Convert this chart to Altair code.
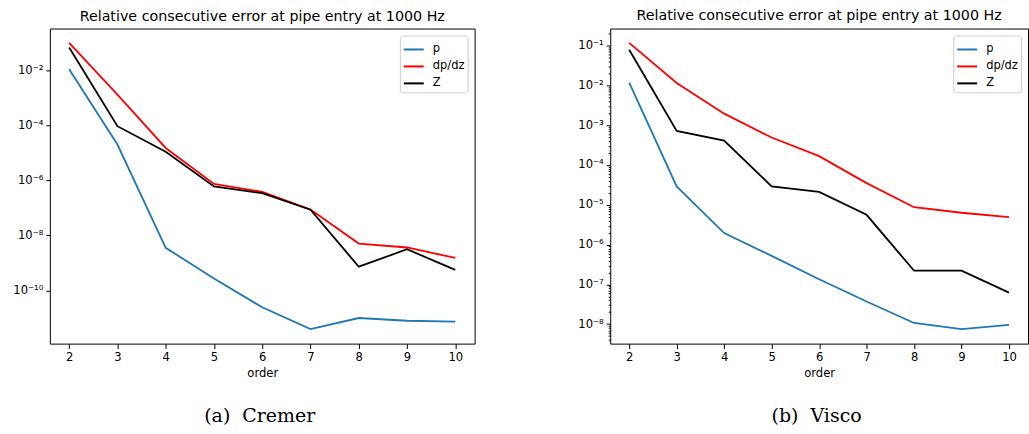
import altair as alt
import pandas as pd

orders = [2, 3, 4, 5, 6, 7, 8, 9, 10]
series_names = ["p", "dp/dz", "Z"]
series_colors = ["#1f77b4", "#ff0000", "#000000"]

cremer_p = [1.1e-2, 2.0e-5, 3.5e-9, 2.7e-10, 2.4e-11, 3.9e-12, 9.8e-12, 7.8e-12, 7.2e-12]
cremer_dpdz = [1.0e-1, 1.3e-3, 1.5e-5, 7.4e-7, 3.8e-7, 8.7e-8, 5.0e-9, 3.6e-9, 1.5e-9]
cremer_Z = [6.8e-2, 9.3e-5, 1.1e-5, 6.0e-7, 3.4e-7, 8.5e-8, 7.2e-10, 3.1e-9, 5.5e-10]

visco_p = [1.17e-2, 2.9e-5, 1.95e-6, 5.2e-7, 1.34e-7, 3.7e-8, 1.07e-8, 7.5e-9, 9.6e-9]
visco_dpdz = [1.17e-1, 1.15e-2, 1.95e-3, 4.9e-4, 1.67e-4, 3.5e-5, 8.7e-6, 6.3e-6, 4.9e-6]
visco_Z = [7.9e-2, 7.2e-4, 4.1e-4, 2.9e-5, 2.1e-5, 5.6e-6, 2.2e-7, 2.2e-7, 6.2e-8]

cremer_yticks = [1e-2, 1e-4, 1e-6, 1e-8, 1e-10]
visco_yticks = [1e-1, 1e-2, 1e-3, 1e-4, 1e-5, 1e-6, 1e-7, 1e-8]
visco_minor = [m * 10.0 ** k for k in range(-9, 0) for m in range(2, 10)]

title_text = "Relative consecutive error at pipe entry at 1000 Hz"
captions = ["(a)\u00a0\u00a0Cremer", "(b)\u00a0\u00a0Visco"]

SUP = ("'10' + (round(log(datum.value)/LN10) < 0 ? '\u207b' : '') + "
       "replace(replace(replace(replace(replace(replace(replace(replace(replace(replace("
       "toString(abs(round(log(datum.value)/LN10))),"
       "'0','\u2070'),'1','\u00b9'),'2','\u00b2'),'3','\u00b3'),'4','\u2074'),"
       "'5','\u2075'),'6','\u2076'),'7','\u2077'),'8','\u2078'),'9','\u2079')")
IS_MAJOR = "abs(log(datum.value)/LN10 - round(log(datum.value)/LN10)) < 0.001"


def long_df(p, d, z):
    rows = []
    for name, vals in zip(series_names, [p, d, z]):
        for o, v in zip(orders, vals):
            rows.append({"order": o, "err": v, "series": name})
    return pd.DataFrame(rows)


def panel(df, ydomain, yvalues, caption, width, height):
    lines = alt.Chart(df).mark_line(strokeWidth=1.8, clip=True).encode(
        x=alt.X("order:Q",
                scale=alt.Scale(domain=[1.6, 10.4], nice=False, zero=False),
                axis=alt.Axis(values=orders, title="order", format="d",
                              labelFlush=False, labelOverlap=False)),
        y=alt.Y("err:Q",
                scale=alt.Scale(type="log", domain=ydomain, nice=False),
                axis=alt.Axis(values=yvalues, title=None,
                              labelExpr="(" + IS_MAJOR + ") ? " + SUP + " : ''",
                              tickSize={"condition": {"test": IS_MAJOR, "value": 4}, "value": 2},
                              labelOverlap=False, labelFlush=False, labelBound=False)),
        color=alt.Color("series:N",
                        scale=alt.Scale(domain=series_names, range=series_colors),
                        sort=series_names,
                        legend=alt.Legend(title=None, orient="top-right", offset=7,
                                          symbolType="stroke", symbolSize=400,
                                          symbolStrokeWidth=2, labelFontSize=11.5,
                                          labelOffset=8, rowPadding=0, padding=3,
                                          strokeColor="#cccccc", fillColor="white",
                                          cornerRadius=3, labelFont="DejaVu Sans",
                                          labelColor="black")),
    )
    cap = alt.Chart(pd.DataFrame({"t": [caption]})).mark_text(
        font="DejaVu Serif", fontSize=19, baseline="middle", align="center", color="black"
    ).encode(x=alt.value(width / 2 - 2.5), y=alt.value(389), text="t:N")
    return alt.layer(lines, cap).properties(
        width=width, height=height,
        title=alt.TitleParams(title_text, fontSize=14.3, fontWeight="normal",
                              font="DejaVu Sans", offset=4, frame="group", color="black"),
    )


left = panel(long_df(cremer_p, cremer_dpdz, cremer_Z),
             [10 ** -11.94, 10 ** -0.48], cremer_yticks, captions[0], 426, 316)
right = panel(long_df(visco_p, visco_dpdz, visco_Z),
              [10 ** -8.49, 10 ** -0.57], visco_yticks + visco_minor, captions[1], 419, 316)

chart = alt.hconcat(left, right, spacing=101).resolve_scale(
    color="independent"
).resolve_legend(color="independent").properties(
    padding={"left": 12, "top": 8, "right": 0, "bottom": 0},
    background="white",
).configure_view(stroke="black", strokeWidth=1).configure_axis(
    domain=False, tickColor="black", labelColor="black", titleColor="black",
    labelFont="DejaVu Sans", titleFont="DejaVu Sans", labelFontSize=11.6, titleFontSize=11.6,
    titleFontWeight="normal", labelPadding=3, grid=False, titlePadding=4,
)

chart.save("out.html", embed_options={"renderer": "svg", "actions": False})
